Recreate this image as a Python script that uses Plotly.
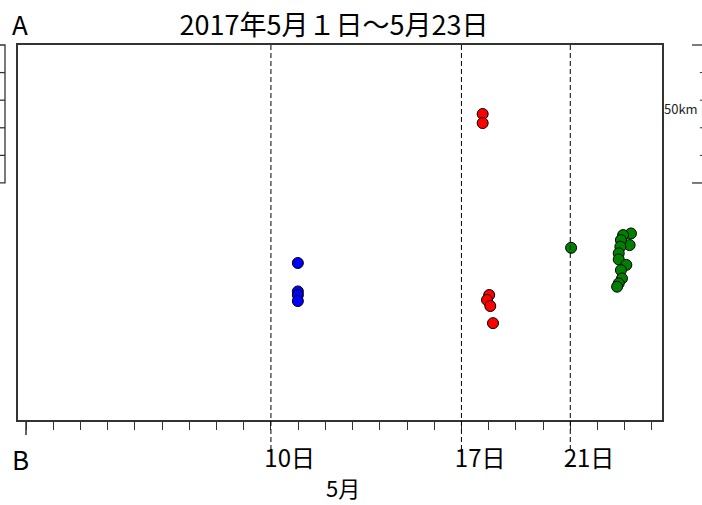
import plotly.graph_objects as go

# ---- data (day of May 2017, vertical position in km) ----
blue_day = [10.99, 10.99, 10.99, 10.99]
blue_km = [56.9, 46.6, 45.3, 43.1]

red_day = [17.78, 17.78, 18.02, 17.94, 18.06, 18.16]
red_km = [110.9, 107.6, 45.3, 43.5, 41.3, 35.1]

green_day = [21.03, 23.23, 22.94, 23.18, 22.86, 22.84, 22.78, 22.78, 23.06, 22.86, 22.90, 22.78, 22.72]
green_km = [62.4, 67.6, 67.0, 63.4, 65.2, 62.8, 60.4, 58.2, 56.2, 54.3, 51.3, 49.5, 48.3]

marker_days = [10, 17, 21]
marker_labels = ["10日", "17日", "21日"]
first_day = 1
last_day = 24

x_range = [0.706, 24.37]
y_max = 135.9
scale_km = 50
scale_step = 10

title_text = "2017年5月１日～5月23日"
font_family = "Noto Sans CJK JP, Noto Sans, sans-serif"

OFF = 0  # page body margin (set to 0 by post_script)
PL, PT, PR, PB = 18, 45, 661.7, 420  # plot box in page pixels
PW, PH = PR - PL, PB - PT

fig = go.Figure()
for days, kms, col in [(blue_day, blue_km, "#0000FF"),
                       (red_day, red_km, "#FF0000"),
                       (green_day, green_km, "#008000")]:
    fig.add_trace(go.Scatter(
        x=days, y=kms, mode="markers",
        marker=dict(size=11, color=col, line=dict(color="black", width=1)),
        showlegend=False, hoverinfo="skip"))

shapes = []
# dashed reference lines
for d in marker_days:
    shapes.append(dict(type="line", xref="x", yref="paper", x0=d, x1=d,
                       y0=-0.08, y1=1.008,
                       line=dict(color="black", width=1, dash="5px,3px")))
# long first tick
shapes.append(dict(type="line", xref="x", yref="paper", x0=first_day, x1=first_day,
                   y0=0, y1=-0.04, line=dict(color="#333", width=1.5)))

top_km = y_max
bot_km = y_max - scale_km
def yp(km):
    return km / y_max
def xp(px):
    return (px - PL) / PW
def ypx(py):
    return (PB - py) / PH

# left cut-off scale box
shapes.append(dict(type="rect", xref="paper", yref="paper", x0=xp(-5), x1=xp(5),
                   y0=yp(bot_km), y1=yp(top_km), line=dict(color="#333", width=1.3)))
k = bot_km + scale_step
while k < top_km - 1e-6:
    shapes.append(dict(type="line", xref="paper", yref="paper", x0=xp(-5), x1=xp(5),
                       y0=yp(k), y1=yp(k), line=dict(color="#333", width=1.3)))
    k += scale_step
# right 50 km ruler
for kk in (top_km, bot_km):
    shapes.append(dict(type="line", xref="paper", yref="paper", x0=xp(691.7), x1=xp(703),
                       y0=yp(kk), y1=yp(kk), line=dict(color="#333", width=1.3)))
k = bot_km + scale_step
while k < top_km - 1e-6:
    shapes.append(dict(type="line", xref="paper", yref="paper", x0=xp(699.5), x1=xp(703),
                       y0=yp(k), y1=yp(k), line=dict(color="#333", width=1)))
    k += scale_step

annotations = [
    dict(text="A", xref="paper", yref="paper", x=xp(20), y=ypx(24),
         showarrow=False, xanchor="center", yanchor="middle",
         font=dict(size=26, family=font_family, color="black")),
    dict(text="B", xref="paper", yref="paper", x=xp(20), y=ypx(458),
         showarrow=False, xanchor="center", yanchor="middle",
         font=dict(size=26, family=font_family, color="black")),
    dict(text="5月", xref="paper", yref="paper", x=xp(343), y=ypx(487),
         showarrow=False, xanchor="center", yanchor="middle",
         font=dict(size=22, family=font_family, color="black")),
    dict(text=f"{scale_km}km", xref="paper", yref="paper", x=xp(700),
         y=ypx(108), showarrow=False, xanchor="right", yanchor="middle",
         font=dict(size=13, family=font_family, color="#222")),
]

W, H = 702, 505
fig.update_layout(
    width=W, height=H,
    margin=dict(l=PL - OFF, r=W + OFF - PR, t=PT - OFF, b=H + OFF - PB),
    paper_bgcolor="white", plot_bgcolor="white",
    title=dict(text=title_text, x=(334 - OFF) / W, xref="container", xanchor="center",
               y=1 - (26 - OFF) / H, yref="container", yanchor="middle",
               font=dict(size=27, family=font_family, color="black")),
    shapes=shapes, annotations=annotations,
    font=dict(family=font_family, color="black"),
)
fig.update_xaxes(
    range=x_range, showgrid=False, zeroline=False, automargin=False,
    showline=True, mirror=True, linecolor="#333", linewidth=1.5,
    tickmode="array", tickvals=marker_days, ticktext=marker_labels,
    ticks="outside", ticklen=8, tickcolor="#333", tickwidth=1.3,
    ticklabelposition="outside right", ticklabelstandoff=16, ticklabelshift=-8,
    tickfont=dict(size=24, family=font_family, color="black"),
    minor=dict(tick0=first_day, dtick=1, ticks="outside", ticklen=8,
               tickcolor="#333", tickwidth=1.3, showgrid=False),
)
fig.update_yaxes(
    range=[0, y_max], showgrid=False, zeroline=False, showticklabels=False,
    automargin=False,
    showline=True, mirror=True, linecolor="#333", linewidth=1.5, ticks="",
)
fig.write_html("out.html", config={"displayModeBar": False},
               post_script="document.body.style.margin='0';document.body.style.overflow='hidden';")
